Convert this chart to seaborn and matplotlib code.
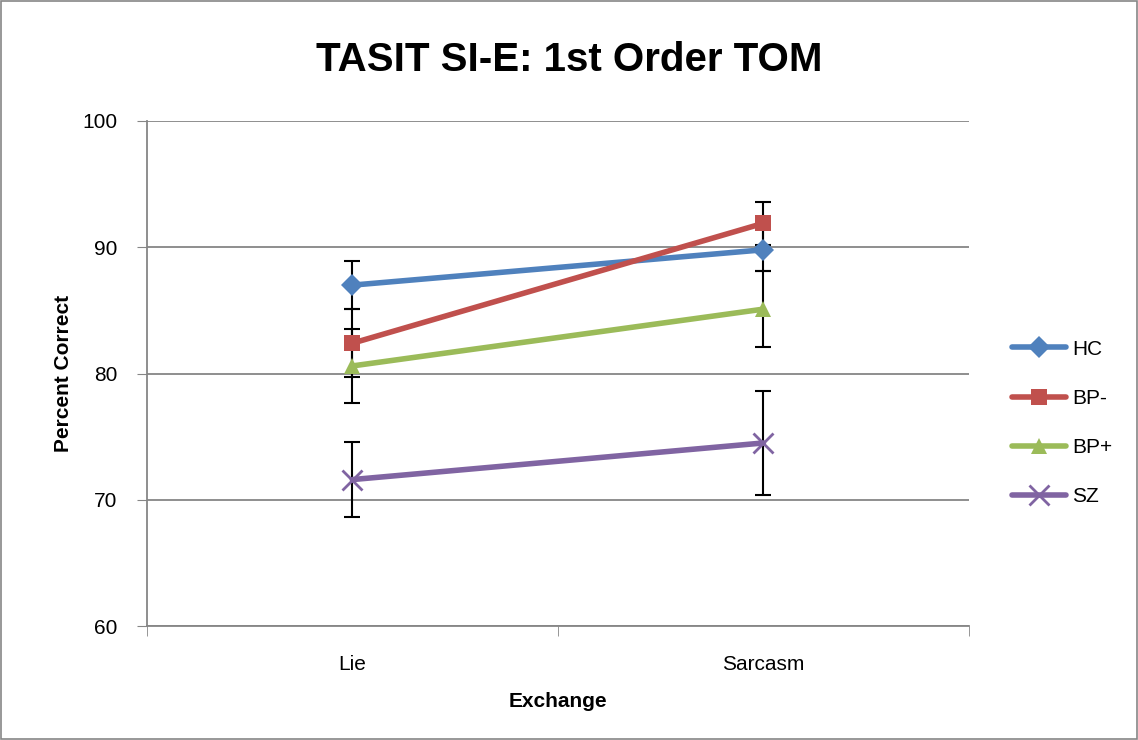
import matplotlib
matplotlib.use("Agg")
import matplotlib.pyplot as plt
import seaborn as sns
import pandas as pd
from matplotlib.patches import Rectangle

# data
exchanges = ["Lie", "Sarcasm"]
groups = ["HC", "BP-", "BP+", "SZ"]
hc = [87.0, 89.8]
bp_minus = [82.4, 91.9]
bp_plus = [80.6, 85.1]
sz = [71.6, 74.5]
hc_err = [1.9, 1.7]
bp_minus_err = [2.7, 1.7]
bp_plus_err = [2.9, 3.0]
sz_err = [3.0, 4.1]

colors = ["#4F81BD", "#C0504D", "#9BBB59", "#8064A2"]
markers = ["D", "s", "^", "x"]

rows = []
for g, vals, errs in zip(groups, [hc, bp_minus, bp_plus, sz],
                         [hc_err, bp_minus_err, bp_plus_err, sz_err]):
    for i, ex in enumerate(exchanges):
        rows.append({"Exchange": ex, "pos": i, "group": g, "value": vals[i], "err": errs[i]})
df = pd.DataFrame(rows)

sns.set_style("white")
plt.rcParams['font.family'] = ['Liberation Sans', 'DejaVu Sans']
plt.rcParams['text.color'] = 'black'
plt.rcParams['axes.labelcolor'] = 'black'
plt.rcParams['xtick.color'] = 'black'
plt.rcParams['ytick.color'] = 'black'

fig = plt.figure(figsize=(11.38, 7.4), dpi=100)
ax = fig.add_axes([0.129, 0.154, 0.7225, 0.6825])

# error bars first, in black
for g in groups:
    sub = df[df["group"] == g]
    ax.errorbar(sub["pos"], sub["value"], yerr=sub["err"], fmt="none",
                ecolor="black", elinewidth=1.5, capsize=6, capthick=1.5, zorder=2)

for g, c, m in zip(groups, colors, markers):
    sub = df[df["group"] == g]
    if m == "x":
        kw = dict(markersize=14, markeredgewidth=2, markeredgecolor=c)
    elif m == "D":
        kw = dict(markersize=11, markeredgewidth=0)
    else:
        kw = dict(markersize=12, markeredgewidth=0)
    sns.lineplot(data=sub, x="pos", y="value", color=c, marker=m, linewidth=4,
                 label=g, ax=ax, zorder=3, **kw)

ax.set_xlim(-0.5, 1.5)
ax.set_ylim(60, 100)
ax.set_xticks([0, 1])
ax.set_xticklabels(exchanges, fontsize=15)
ax.set_xticks([-0.5, 0.5, 1.5], minor=True)
ax.tick_params(axis="x", which="major", length=0, pad=21)
ax.tick_params(axis="x", which="minor", length=7, color="#868686", direction="out", bottom=True)
ax.set_yticks([60, 70, 80, 90, 100])
ax.tick_params(axis="y", labelsize=15, length=7, color="#868686", labelcolor="black",
               direction="out", left=True, pad=14)
ax.grid(axis="y", color="#868686", linewidth=1.3)
ax.set_axisbelow(True)
for s in ["top", "right"]:
    ax.spines[s].set_visible(False)
for s in ["left", "bottom"]:
    ax.spines[s].set_color("#868686")
    ax.spines[s].set_linewidth(1.3)

ax.set_xlabel("Exchange", fontsize=15, fontweight="bold", labelpad=13)
ax.set_ylabel("Percent Correct", fontsize=15, fontweight="bold", labelpad=7)

fig.suptitle("TASIT SI-E: 1st Order TOM", fontsize=29, fontweight="bold", y=0.945)

handles, labels = ax.get_legend_handles_labels()
ax.legend(handles, labels, loc="center left", bbox_to_anchor=(1.029, 0.402),
          frameon=False, fontsize=15, handlelength=2.6, labelspacing=1.45, handletextpad=0.3)

fig.patches.append(Rectangle((0.001, 0.001), 0.998, 0.998, transform=fig.transFigure,
                             fill=False, edgecolor="#868686", linewidth=1.2))

fig.savefig("out.png", dpi=100)
